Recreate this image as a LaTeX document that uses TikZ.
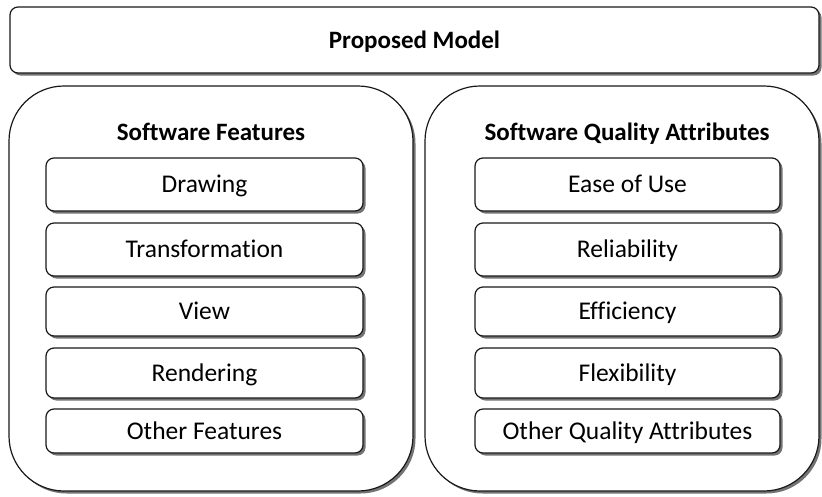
\documentclass[tikz,border=0pt]{standalone}
\usepackage{fontspec}
\setmainfont{Carlito}[Ligatures={NoCommon}]
\usetikzlibrary{shadows}
\begin{document}
\begin{tikzpicture}[x=1pt,y=1pt,
  shad/.style={drop shadow={shadow xshift=2.5pt,shadow yshift=-2.5pt,fill=black!55,opacity=1}},
  small/.style={draw=black!90,line width=1.2pt,fill=white,rounded corners=8pt,shad,
    inner sep=0pt,text height=16.3pt,text depth=0pt,font=\fontsize{25.5}{30}\selectfont},
  big/.style={draw=black!90,line width=1.2pt,fill=white,rounded corners=55pt,shad,inner sep=0pt},
  title/.style={font=\fontsize{25}{30}\selectfont\bfseries,inner sep=0pt,text height=16pt,text depth=0pt}]
\useasboundingbox (0,0) rectangle (822,-496);
\node[small,minimum width=809pt,minimum height=66pt,text height=16pt,font=\fontsize{25}{30}\selectfont\bfseries] (pm) at (414.5,-40) {Proposed Model};
\node[big,minimum width=404pt,minimum height=405pt] (sf) at (211,-288.5) {};
\node[big,minimum width=394pt,minimum height=405pt] (sq) at (622,-288.5) {};
\node[title] (sft) at (211,-132) {Software Features};
\node[title] (sqt) at (627,-132) {Software Quality Attributes};
\node[small,minimum width=317pt,minimum height=53pt] (f1) at (204.5,-184.5) {Drawing};
\node[small,minimum width=317pt,minimum height=53pt] (f2) at (204.5,-249.5) {Transformation};
\node[small,minimum width=317pt,minimum height=49pt] (f3) at (204.5,-311.5) {View};
\node[small,minimum width=317pt,minimum height=50pt] (f4) at (204.5,-373) {Rendering};
\node[small,minimum width=317pt,minimum height=44pt] (f5) at (204.5,-431) {Other Features};
\node[small,minimum width=305pt,minimum height=53pt] (q1) at (627.5,-184.5) {Ease of Use};
\node[small,minimum width=305pt,minimum height=53pt] (q2) at (627.5,-249.5) {Reliability};
\node[small,minimum width=305pt,minimum height=49pt] (q3) at (627.5,-311.5) {Efficiency};
\node[small,minimum width=305pt,minimum height=50pt] (q4) at (627.5,-373) {Flexibility};
\node[small,minimum width=305pt,minimum height=44pt] (q5) at (627.5,-431) {Other Quality Attributes};
\end{tikzpicture}
\end{document}
